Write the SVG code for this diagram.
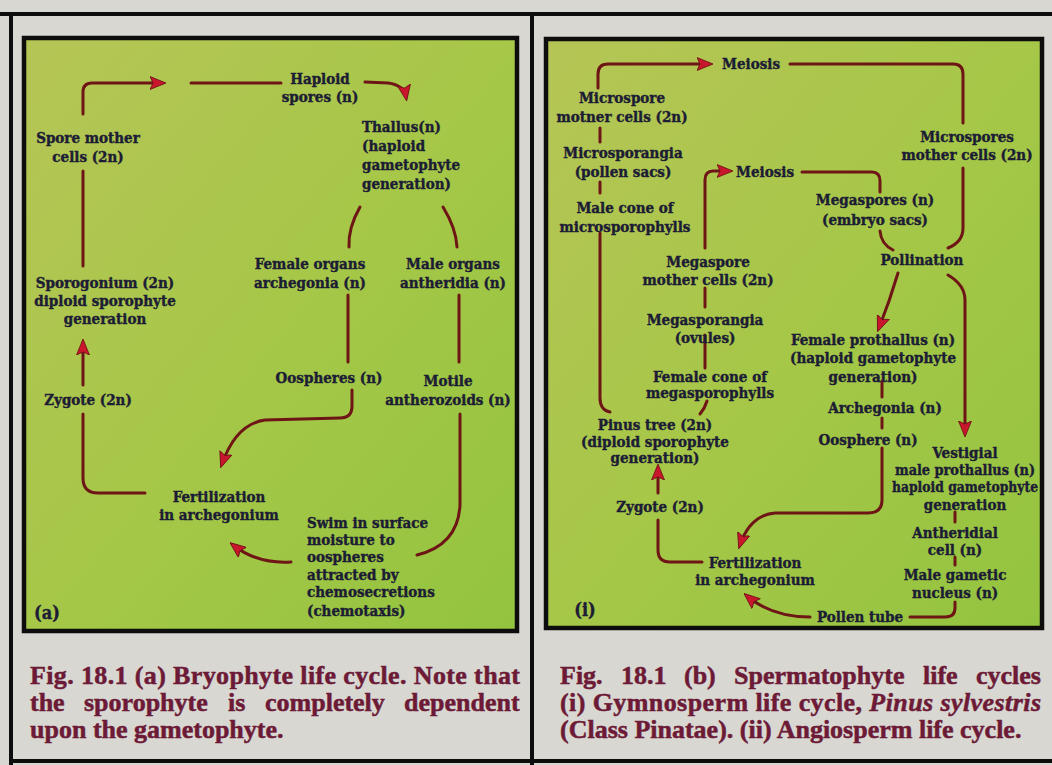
<svg xmlns="http://www.w3.org/2000/svg" width="1052" height="765" viewBox="0 0 1052 765">
<defs>
<linearGradient id="grn" x1="0" y1="0" x2="1" y2="1">
<stop offset="0" stop-color="#b6c556"/>
<stop offset="0.5" stop-color="#a6c748"/>
<stop offset="1" stop-color="#93c43f"/>
</linearGradient>
<marker id="ah" viewBox="0 0 16 14" refX="12" refY="7" markerWidth="16" markerHeight="14" orient="auto" markerUnits="userSpaceOnUse">
<path d="M0,0.5 L16,7 L0,13.5 L3,7 z" fill="#c8162c" stroke="#6a0f14" stroke-width="0.8"/>
</marker>
<style>
.frame{fill:none;stroke:#0d0d0d;stroke-width:4}
.panel{fill:url(#grn);stroke:#0d0d0d;stroke-width:4.5}
.ln{fill:none;stroke:#6e1515;stroke-width:3;stroke-linecap:round;stroke-linejoin:round}
.ar{marker-end:url(#ah)}
.t{font-family:'DejaVu Serif Condensed','DejaVu Serif',serif;font-weight:bold;font-size:15px;fill:#1c1c34;stroke:#1c1c34;stroke-width:0.4;text-anchor:middle}
.tl{text-anchor:start}
.lbl{font-size:18px}
.cap{font-family:'Liberation Serif','Times New Roman',serif;font-weight:bold;font-size:26px;fill:#6c1a36;stroke:#6c1a36;stroke-width:0.5}
.it{font-style:italic}
</style>
</defs>
<rect x="0" y="0" width="1052" height="765" fill="#d8d7d2"/>
<g id="frame">
<path class="frame" d="M0,14 L1052,14 M11,14 L11,765 M532,14 L532,765 M11,761 L1052,761"/>
<rect class="panel" x="24" y="38" width="493" height="593"/>
<rect class="panel" x="546" y="39" width="496" height="589"/>
</g>
<g id="connectors">
<path class="ln ar" d="M83,114 L83,92 Q83,83 92,83 L162,83"/>
<path class="ln" d="M191,83 L281,83"/>
<path class="ln ar" d="M365,82 L388,83 Q404,85 406,97"/>
<path class="ln" d="M360,207 Q348,228 349,247"/>
<path class="ln" d="M443,207 Q456,228 457,247"/>
<path class="ln" d="M83,171 L83,266"/>
<path class="ln" d="M348,295 L348,362"/>
<path class="ln" d="M459,295 L459,362"/>
<path class="ln ar" d="M352,390 L352,406 Q352,418 340,418 L265,420 Q236,424 222,464"/>
<path class="ln" d="M460,414 L460,505 Q458,545 417,555"/>
<path class="ln ar" d="M291,562 Q257,564 233,545"/>
<path class="ln" d="M145,493 L98,493 Q83,493 83,478 L83,414"/>
<path class="ln ar" d="M83,385 L83,343"/>
<path class="ln ar" d="M598,88 L598,74 Q598,64 608,64 L709,64"/>
<path class="ln" d="M790,64 L953,64 Q963,64 963,74 L963,123"/>
<path class="ln" d="M963,168 L963,228 Q963,242 948,248"/>
<path class="ln" d="M600,128 L600,142 M600,182 L600,193"/>
<path class="ln" d="M600,233 L600,398 Q600,410 610,412"/>
<path class="ln ar" d="M705,248 L705,180 Q705,171 713,171 L729,171"/>
<path class="ln" d="M802,172 L872,172 Q880,172 880,181 L880,192 M880,231 Q881,244 893,250"/>
<path class="ln ar" d="M898,273 Q890,300 879,328"/>
<path class="ln ar" d="M948,275 Q965,285 965,300 L965,433"/>
<path class="ln" d="M882,381 L882,397 M882,418 L882,428"/>
<path class="ln ar" d="M882,448 L882,500 Q882,513 868,513 L775,513 Q750,515 740,545"/>
<path class="ln" d="M955,512 L955,522 M955,557 L955,565"/>
<path class="ln" d="M955,602 L955,608 Q955,617 945,617 L910,617"/>
<path class="ln ar" d="M810,617 Q772,617 747,596"/>
<path class="ln" d="M702,562 L670,562 Q658,562 658,550 L658,520"/>
<path class="ln ar" d="M658,493 L658,468"/>
<path class="ln" d="M705,288 L705,307 M705,335 L705,368"/>
<path class="ln" d="M707,401 Q705,408 700,414"/>
</g>
<g id="haploid-spores"><text class="t" x="320" y="84">Haploid</text><text class="t" x="320" y="102">spores (n)</text></g>
<g id="thallus"><text class="t tl" x="362" y="132">Thallus(n)</text><text class="t tl" x="362" y="151">(haploid</text><text class="t tl" x="362" y="170">gametophyte</text><text class="t tl" x="362" y="189">generation)</text></g>
<g id="spore-mother-cells"><text class="t" x="88" y="143">Spore mother</text><text class="t" x="88" y="162">cells (2n)</text></g>
<g id="sporogonium"><text class="t" x="105" y="288">Sporogonium (2n)</text><text class="t" x="105" y="306">diploid sporophyte</text><text class="t" x="105" y="324">generation</text></g>
<g id="female-organs"><text class="t" x="310" y="269">Female organs</text><text class="t" x="310" y="288">archegonia (n)</text></g>
<g id="male-organs"><text class="t" x="453" y="269">Male organs</text><text class="t" x="453" y="288">antheridia (n)</text></g>
<g id="oospheres"><text class="t" x="329" y="383">Oospheres (n)</text></g>
<g id="motile-antherozoids"><text class="t" x="448" y="386">Motile</text><text class="t" x="448" y="405">antherozoids (n)</text></g>
<g id="zygote-a"><text class="t" x="88" y="405">Zygote (2n)</text></g>
<g id="fertilization-a"><text class="t" x="219" y="502">Fertilization</text><text class="t" x="219" y="520">in archegonium</text></g>
<g id="swim"><text class="t tl" x="307" y="528">Swim in surface</text><text class="t tl" x="307" y="545">moisture to</text><text class="t tl" x="307" y="562">oospheres</text><text class="t tl" x="307" y="580">attracted by</text><text class="t tl" x="307" y="597">chemosecretions</text><text class="t tl" x="307" y="616">(chemotaxis)</text></g>
<g id="label-a"><text class="t lbl" x="47" y="619">(a)</text></g>
<g id="meiosis-1"><text class="t" x="751" y="69">Meiosis</text></g>
<g id="microspore-mother"><text class="t" x="622" y="103">Microspore</text><text class="t" x="622" y="122">motner cells (2n)</text></g>
<g id="microsporangia"><text class="t" x="623" y="158">Microsporangia</text><text class="t" x="623" y="177">(pollen sacs)</text></g>
<g id="male-cone"><text class="t" x="625" y="213">Male cone of</text><text class="t" x="625" y="232">microsporophylls</text></g>
<g id="microspores-mother"><text class="t" x="967" y="142">Microspores</text><text class="t" x="967" y="160">mother cells (2n)</text></g>
<g id="meiosis-2"><text class="t tl" x="736" y="177">Meiosis</text></g>
<g id="megaspores"><text class="t" x="875" y="205">Megaspores (n)</text><text class="t" x="875" y="225">(embryo sacs)</text></g>
<g id="pollination"><text class="t" x="922" y="265">Pollination</text></g>
<g id="megaspore-mother"><text class="t" x="708" y="267">Megaspore</text><text class="t" x="708" y="285">mother cells (2n)</text></g>
<g id="megasporangia"><text class="t" x="705" y="325">Megasporangia</text><text class="t" x="705" y="343">(ovules)</text></g>
<g id="female-cone"><text class="t" x="710" y="382">Female cone of</text><text class="t" x="710" y="398">megasporophylls</text></g>
<g id="pinus-tree"><text class="t" x="655" y="430">Pinus tree (2n)</text><text class="t" x="655" y="447">(diploid sporophyte</text><text class="t" x="655" y="463">generation)</text></g>
<g id="zygote-b"><text class="t" x="660" y="512">Zygote (2n)</text></g>
<g id="fertilization-b"><text class="t" x="755" y="568">Fertilization</text><text class="t" x="755" y="585">in archegonium</text></g>
<g id="label-i"><text class="t lbl" x="585" y="616">(i)</text></g>
<g id="female-prothallus"><text class="t" x="873" y="345">Female prothallus (n)</text><text class="t" x="873" y="363">(haploid gametophyte</text><text class="t" x="873" y="382">generation)</text></g>
<g id="archegonia"><text class="t" x="885" y="413">Archegonia (n)</text></g>
<g id="oosphere"><text class="t" x="868" y="445">Oosphere (n)</text></g>
<g id="vestigial"><text class="t" x="965" y="458">Vestigial</text><text class="t" x="965" y="475" textLength="140" lengthAdjust="spacingAndGlyphs">male prothallus (n)</text><text class="t" x="965" y="492" textLength="146" lengthAdjust="spacingAndGlyphs">haploid gametophyte</text><text class="t" x="965" y="510">generation</text></g>
<g id="antheridial"><text class="t" x="955" y="538">Antheridial</text><text class="t" x="955" y="555">cell (n)</text></g>
<g id="male-gametic"><text class="t" x="955" y="580">Male gametic</text><text class="t" x="955" y="598">nucleus (n)</text></g>
<g id="pollen-tube"><text class="t" x="860" y="622">Pollen tube</text></g>
<g id="caption-a">
<text class="cap" x="30" y="684" textLength="490" lengthAdjust="spacing">Fig. 18.1 (a) Bryophyte life cycle. Note that</text>
<text class="cap" y="711"><tspan x="30">the</tspan><tspan x="84">sporophyte</tspan><tspan x="228">is</tspan><tspan x="265">completely</tspan><tspan x="404">dependent</tspan></text>
<text class="cap" x="30" y="738">upon the gametophyte.</text>
</g>
<g id="caption-b">
<text class="cap" y="684"><tspan x="560">Fig.</tspan><tspan x="621">18.1</tspan><tspan x="684">(b)</tspan><tspan x="734">Spermatophyte</tspan><tspan x="923">life</tspan><tspan x="976">cycles</tspan></text>
<text class="cap" x="560" y="711" textLength="481" lengthAdjust="spacing">(i) Gymnosperm life cycle, <tspan class="it">Pinus sylvestris</tspan></text>
<text class="cap" x="560" y="738">(Class Pinatae). (ii) Angiosperm life cycle.</text>
</g>
</svg>
